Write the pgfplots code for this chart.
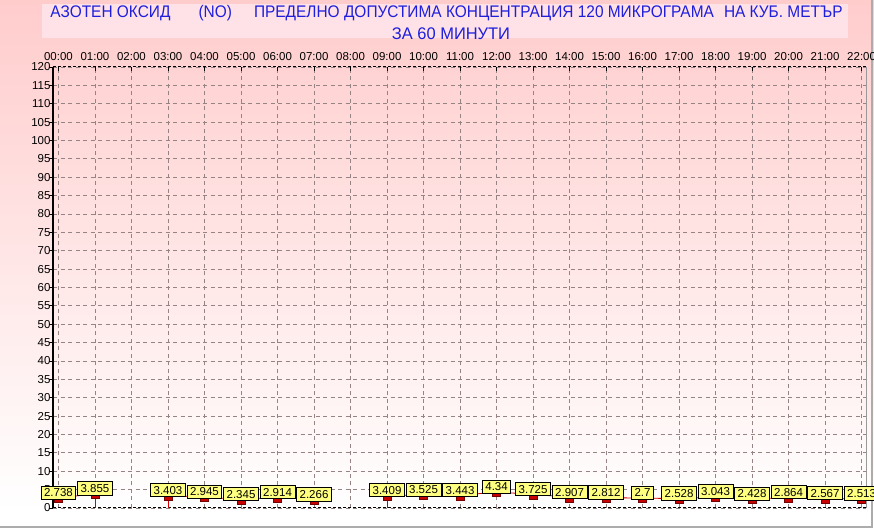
\documentclass[border=0pt]{standalone}
\usepackage{fontspec}
\setmainfont{Liberation Sans}
\usepackage{graphicx}
\usepackage{pgfplots}
\pgfplotsset{compat=1.18}
\definecolor{toppink}{RGB}{255,204,204}
\definecolor{titlebox}{RGB}{255,226,232}
\definecolor{titleblue}{RGB}{30,30,220}
\definecolor{gridgray}{RGB}{150,132,132}
\definecolor{lblyellow}{RGB}{255,255,128}
\definecolor{datared}{RGB}{210,0,0}
\definecolor{markred}{RGB}{200,0,0}
\pgfplotsset{
  dataseg/.style={datared, line width=0.8pt, mark=square*, mark size=2.5pt,
    mark options={fill=markred, draw=red!45!black, line width=0.5pt, xscale=1.6, yscale=1, yshift=-2pt},
    nodes near coords={\pgfplotspointmeta},
    point meta=explicit symbolic,
    nodes near coords style={anchor=south, yshift=0.3pt, fill=lblyellow, draw=black, line width=0.8pt,
      font=\fontsize{11.5}{12}\selectfont, text=black, inner xsep=3pt, inner ysep=2.5pt,
      text height=8.3pt, text depth=0pt},
  },
}
\begin{document}
\begin{tikzpicture}
% background
\useasboundingbox (-53pt,-21pt) rectangle (821pt,508pt);
\shade[top color=toppink, bottom color=white] (-53pt,-2pt) rectangle (821pt,508pt);
\fill[white] (-53pt,-21pt) rectangle (821pt,-2pt);
\draw[gray!65, line width=2pt] (-53pt,-19.5pt) -- (819pt,-19.5pt) -- (819pt,508pt);
% title
\fill[titlebox] (-11pt,470pt) rectangle (795pt,504pt);
\node[text=titleblue, font=\fontsize{16.8}{20}\selectfont, inner sep=0pt] at (393.5pt,494.5pt)
  {\scalebox{0.919}[1]{АЗОТЕН ОКСИД\hspace{30.5pt}(NO)\hspace{24pt}ПРЕДЕЛНО ДОПУСТИМА КОНЦЕНТРАЦИЯ 120 МИКРОГРАМА\hspace{11pt}НА КУБ. МЕТЪР}};
\node[text=titleblue, font=\fontsize{16.8}{20}\selectfont, inner sep=0pt] at (398pt,474pt)
  {\scalebox{0.98}[1]{ЗА 60 МИНУТИ}};
\begin{axis}[
  at={(0pt,0pt)}, anchor=south west,
  scale only axis, width=813pt, height=441pt,
  xmin=-0.15, xmax=22.12, ymin=0, ymax=120,
  axis line style={draw=none},
  xtick={0,1,...,22},
  xticklabels={00:00,01:00,02:00,03:00,04:00,05:00,06:00,07:00,08:00,09:00,10:00,11:00,12:00,13:00,14:00,15:00,16:00,17:00,18:00,19:00,20:00,21:00,22:00},
  xtick pos=right, xticklabel pos=right,
  ytick={0,5,...,120},
  ytick pos=left,
  /pgf/number format/assume math mode=true,
  tick label style={font=\fontsize{11.5}{12}\selectfont, text=black},
  xticklabel style={yshift=3pt},
  yticklabel style={xshift=1pt},
  major tick length=4pt,
  xtick style={draw=black, line width=0.6pt},
  ytick style={draw=black, line width=0.8pt},
  y tick style={/pgfplots/tick align=outside},
  x tick style={/pgfplots/tick align=inside},
  grid=major,
  major grid style={gridgray, dash pattern=on 4pt off 3.5pt, line width=0.8pt},
  clip=false,
]
% frame
\draw[black, line width=2.5pt] (rel axis cs:0,0) -- (rel axis cs:0,1);
\draw[black, line width=1pt, dash pattern=on 3pt off 2pt] (rel axis cs:0,1) -- (rel axis cs:1,1);
\draw[black, line width=1pt, dash pattern=on 3pt off 2pt] (rel axis cs:0,0) -- (rel axis cs:1,0);
\draw[gray!80, line width=1pt] (rel axis cs:1,0) -- (rel axis cs:1,1);
% drop lines
\addplot[datared, line width=0.8pt, ycomb, no marks] coordinates {(1,3.855) (3,3.403) (9,3.409)};
% data segments
\addplot[dataseg] table[meta=label] {
x y label
0 2.738 2.738
1 3.855 3.855
};
\addplot[dataseg] table[meta=label] {
x y label
3 3.403 3.403
4 2.945 2.945
5 2.345 2.345
6 2.914 2.914
7 2.266 2.266
};
\addplot[dataseg] table[meta=label] {
x y label
9 3.409 3.409
10 3.525 3.525
11 3.443 3.443
12 4.34 4.34
13 3.725 3.725
14 2.907 2.907
15 2.812 2.812
16 2.7 2.7
17 2.528 2.528
18 3.043 3.043
19 2.428 2.428
20 2.864 2.864
21 2.567 2.567
22 2.513 2.513
};
\end{axis}
\end{tikzpicture}
\end{document}
